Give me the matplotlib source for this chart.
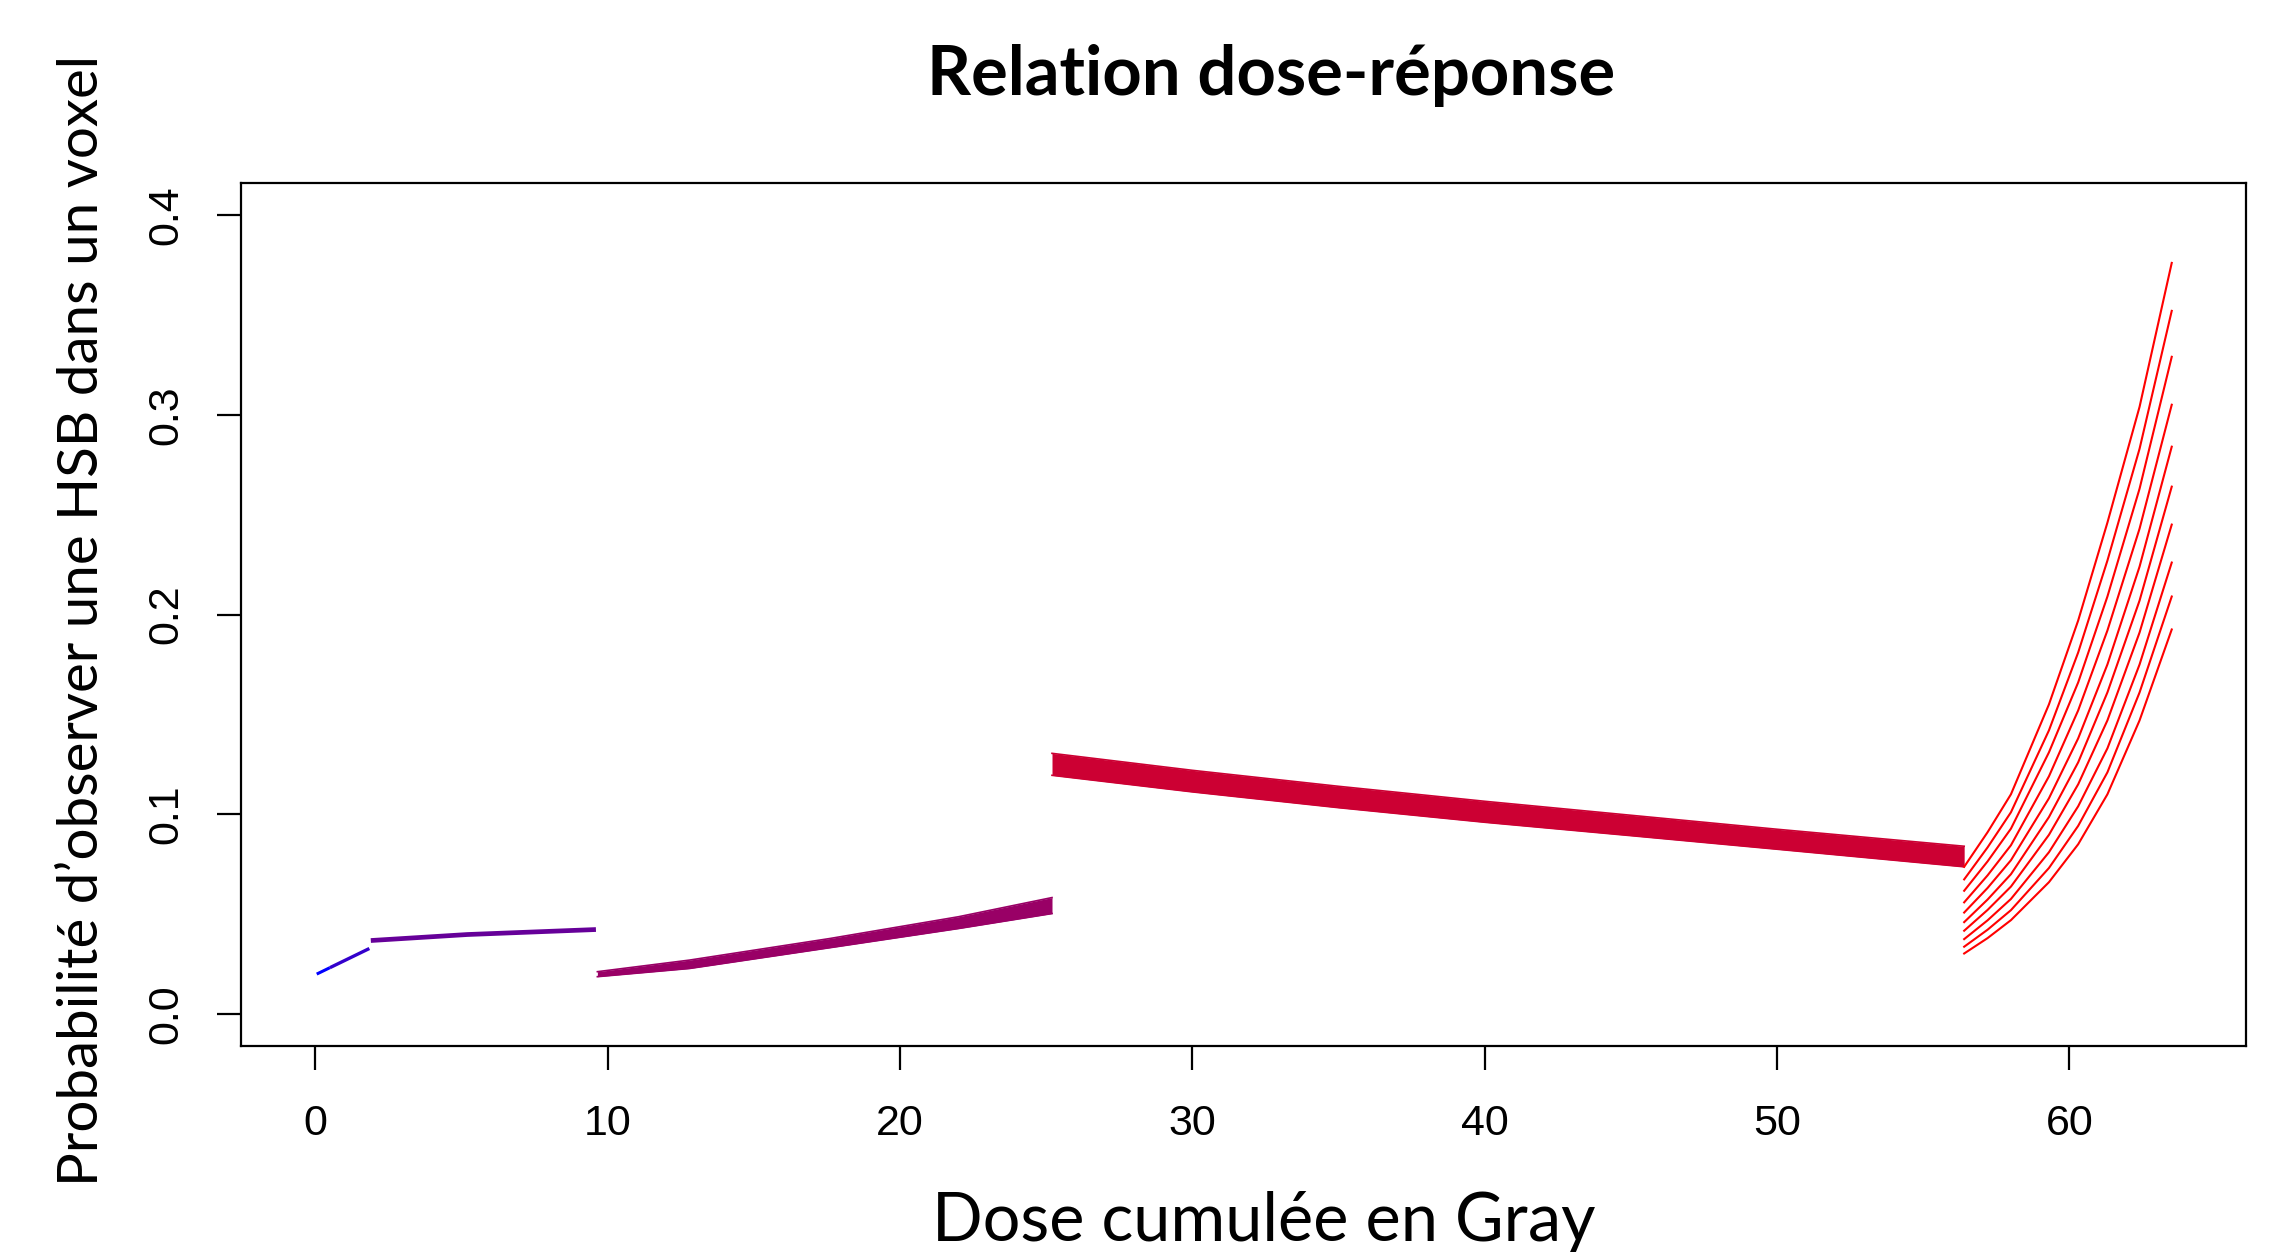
import matplotlib
matplotlib.use("Agg")
import matplotlib.pyplot as plt

# dose (Gy) and probability values
blue_dose = [0.05, 0.5]
blue_prob = [0.0200, 0.0232]

indigo_dose = [0.5, 1.85]
indigo_prob = [0.0232, 0.0328]

purple_dose = [1.9, 5.2, 9.6]
purple_prob = [0.0368, 0.0398, 0.0423]

# magenta and crimson segments are drawn as bands (upper / lower edge)
magenta_dose = [9.65, 12.8, 17.6, 22.0, 25.2]
magenta_top = [0.0212, 0.0270, 0.0378, 0.0487, 0.0583]
magenta_bot = [0.0187, 0.0228, 0.0332, 0.0428, 0.0503]

crimson_dose = [25.2, 30, 35, 40, 45, 50, 56.4]
crimson_top = [0.1305, 0.1220, 0.1140, 0.1065, 0.0995, 0.0925, 0.0840]
crimson_bot = [0.1195, 0.1112, 0.1033, 0.0960, 0.0893, 0.0825, 0.0737]

# last segment: 10 separate curves
fan_dose = [56.4, 57.2, 58.0, 59.3, 60.3, 61.3, 62.4, 63.5]
fan_prob = [
    [0.0737, 0.0910, 0.1100, 0.1550, 0.1970, 0.2460, 0.3040, 0.3760],
    [0.0674, 0.0834, 0.1010, 0.1420, 0.1810, 0.2270, 0.2830, 0.3520],
    [0.0617, 0.0764, 0.0928, 0.1310, 0.1660, 0.2090, 0.2630, 0.3290],
    [0.0559, 0.0694, 0.0845, 0.1190, 0.1520, 0.1920, 0.2430, 0.3050],
    [0.0508, 0.0631, 0.0770, 0.1080, 0.1380, 0.1750, 0.2240, 0.2840],
    [0.0460, 0.0573, 0.0700, 0.0986, 0.1260, 0.1610, 0.2070, 0.2640],
    [0.0417, 0.0521, 0.0638, 0.0897, 0.1150, 0.1470, 0.1910, 0.2450],
    [0.0375, 0.0469, 0.0576, 0.0810, 0.1040, 0.1330, 0.1750, 0.2260],
    [0.0337, 0.0422, 0.0520, 0.0731, 0.0942, 0.1210, 0.1610, 0.2090],
    [0.0303, 0.0380, 0.0470, 0.0660, 0.0850, 0.1100, 0.1470, 0.1925],
]

x_ticks = [0, 10, 20, 30, 40, 50, 60]
y_ticks = [0.0, 0.1, 0.2, 0.3, 0.4]
y_tick_labels = ["0.0", "0.1", "0.2", "0.3", "0.4"]

W, H = 2290, 1252
fig = plt.figure(figsize=(W / 100, H / 100), dpi=100)
ax = fig.add_axes([241 / W, 1 - 1046 / H, (2246 - 241) / W, (1046 - 183) / H])

ax.plot(blue_dose, blue_prob, color="#0000FF", lw=2.2, solid_capstyle="butt")
ax.plot(indigo_dose, indigo_prob, color="#3300CC", lw=2.4, solid_capstyle="butt")
ax.plot(purple_dose, purple_prob, color="#660099", lw=3.4, solid_capstyle="butt")

ax.fill_between(magenta_dose, magenta_bot, magenta_top, color="#990066", lw=0)
ax.plot(magenta_dose, magenta_top, color="#990066", lw=1.2)
ax.plot(magenta_dose, magenta_bot, color="#990066", lw=1.2)

ax.fill_between(crimson_dose, crimson_bot, crimson_top, color="#CC0033", lw=0)
ax.plot(crimson_dose, crimson_top, color="#CC0033", lw=1.2)
ax.plot(crimson_dose, crimson_bot, color="#CC0033", lw=1.2)

for curve in fan_prob:
    ax.plot(fan_dose, curve, color="#FF0000", lw=1.5)

# R-like axes: box, outward ticks, extra 4% around the data
ax.set_xlim(-2.54, 66.04)
ax.set_ylim(-0.016, 0.416)
ax.set_xticks(x_ticks)
ax.set_yticks(y_ticks)
ax.set_yticklabels(y_tick_labels, rotation=90, va="center")
for s in ax.spines.values():
    s.set_linewidth(1.6)
ax.tick_params(direction="out", length=17, width=1.6, labelsize=31)
ax.tick_params(axis="x", pad=25)
ax.tick_params(axis="y", pad=22)
for lab in ax.get_xticklabels() + ax.get_yticklabels():
    lab.set_fontfamily("Liberation Sans")

fig.text(1271 / W, 1 - 95 / H, "Relation dose-réponse", ha="center", va="baseline",
         fontsize=49.5, fontweight="bold", family="Lato")
fig.text(1264 / W, 1 - 1241 / H, "Dose cumulée en Gray", ha="center", va="baseline",
         fontsize=48, family="Lato")
fig.text(98 / W, 1 - 621 / H, "Probabilité d’observer une HSB dans un voxel",
         ha="center", va="baseline", rotation=90, rotation_mode="anchor",
         fontsize=40.7, family="Lato")

fig.savefig("out.png", dpi=100, facecolor="white")
